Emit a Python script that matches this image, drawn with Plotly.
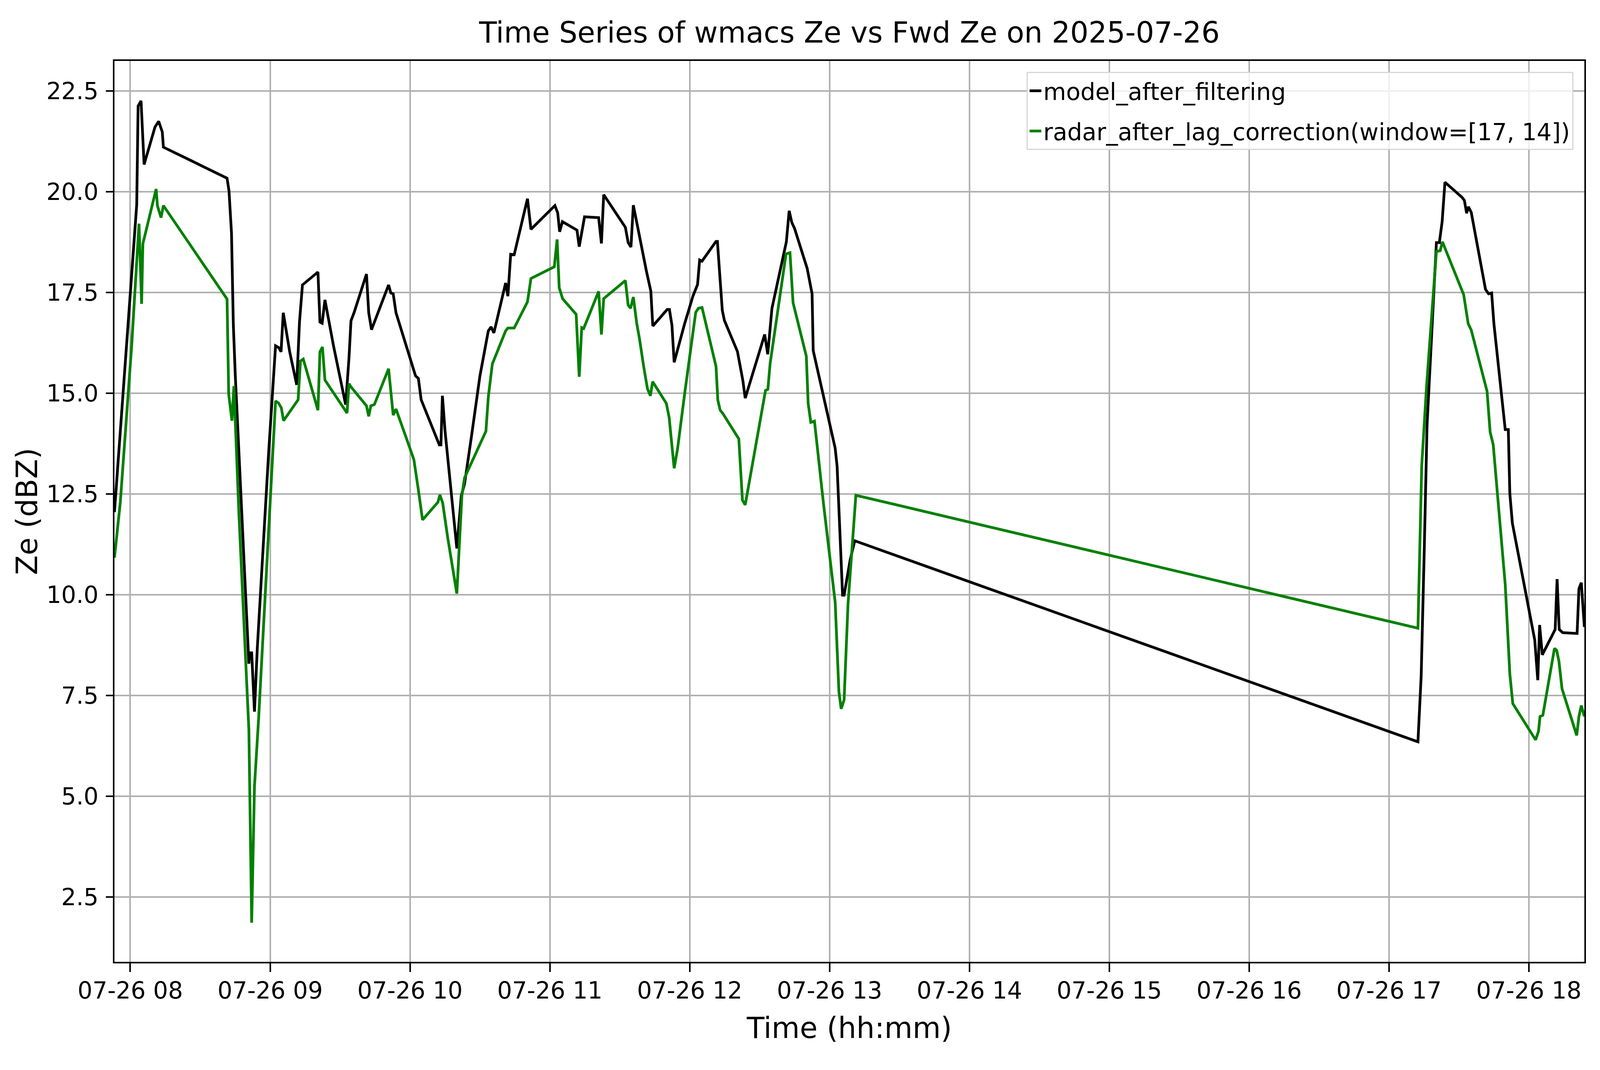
import plotly.graph_objects as go

day = "2025-07-26"

model_times = [
    "07:53:13", "08:02:46", "08:03:22", "08:04:37", "08:05:56", "08:10:37", "08:12:11", "08:13:44",
    "08:14:13", "08:41:31", "08:42:22", "08:43:26", "08:44:13", "08:45:04", "08:50:53", "08:51:14",
    "08:52:05", "08:53:17", "08:54:29", "08:57:32", "08:59:20", "09:02:20", "09:03:47", "09:04:41",
    "09:05:38", "09:08:24", "09:11:24", "09:12:36", "09:13:52", "09:20:31", "09:21:22", "09:22:19",
    "09:23:31", "09:27:11", "09:32:24", "09:33:50", "09:34:41", "09:36:00", "09:41:20", "09:42:18",
    "09:43:30", "09:50:49", "09:51:47", "09:52:48", "09:54:00", "10:02:24", "10:03:36", "10:04:48",
    "10:12:36", "10:13:16", "10:13:55", "10:15:00", "10:20:06", "10:22:01", "10:23:24", "10:26:24",
    "10:30:00", "10:33:36", "10:34:48", "10:36:00", "10:41:02", "10:42:00", "10:43:12", "10:44:42",
    "10:50:24", "10:51:54", "11:02:10", "11:03:22", "11:04:12", "11:05:24", "11:11:38", "11:12:36",
    "11:14:53", "11:20:56", "11:22:08", "11:23:06", "11:32:24", "11:33:36", "11:34:48", "11:35:49",
    "11:38:24", "11:41:24", "11:43:19", "11:44:10", "11:50:20", "11:51:18", "11:52:23", "11:53:20",
    "11:57:50", "12:01:26", "12:03:22", "12:04:16", "12:05:17", "12:11:17", "12:11:53", "12:13:05",
    "12:13:59", "12:14:53", "12:20:28", "12:22:48", "12:23:49", "12:32:10", "12:33:29", "12:35:17",
    "12:41:28", "12:42:40", "12:43:48", "12:45:00", "12:48:54", "12:50:24", "12:52:30", "12:52:59",
    "13:02:24", "13:03:14", "13:05:35", "13:06:14", "13:08:49", "13:10:48", "17:12:25", "17:13:48",
    "17:15:07", "17:16:19", "17:20:20", "17:21:36", "17:22:48", "17:24:00", "17:31:23", "17:32:20",
    "17:33:18", "17:34:05", "17:35:17", "17:41:24", "17:42:43", "17:44:02", "17:45:00", "17:49:52",
    "17:51:11", "17:51:50", "17:52:55", "18:02:31", "18:03:50", "18:04:37", "18:05:46", "18:11:17",
    "18:12:07", "18:13:01", "18:14:31", "18:20:42", "18:21:29", "18:22:30", "18:23:49",
]
model_ze = [
    12.05, 19.68, 22.13, 22.26, 20.68, 21.61, 21.75, 21.49,
    21.11, 20.34, 20.02, 18.97, 16.70, 15.43, 8.29, 8.56,
    8.56, 7.10, 8.66, 11.71, 13.50, 16.18, 16.13, 16.03,
    17.00, 16.03, 15.21, 16.77, 17.69, 18.01, 16.77, 16.74,
    17.32, 16.18, 14.72, 15.88, 16.80, 17.00, 17.96, 17.00,
    16.58, 17.69, 17.49, 17.47, 17.00, 15.43, 15.37, 14.84,
    13.72, 13.72, 14.94, 14.09, 11.15, 12.46, 12.75, 13.94,
    15.43, 16.55, 16.65, 16.50, 17.74, 17.41, 18.45, 18.44,
    19.83, 19.07, 19.66, 19.48, 19.01, 19.26, 19.05, 18.64,
    19.38, 19.36, 18.72, 19.93, 19.12, 18.74, 18.63, 19.67,
    18.90, 18.04, 17.54, 16.67, 17.08, 17.08, 16.69, 15.77,
    16.73, 17.42, 17.70, 18.31, 18.28, 18.77, 18.77, 17.90,
    17.06, 16.81, 16.04, 15.32, 14.88, 16.46, 15.97, 17.11,
    18.76, 19.53, 19.24, 19.09, 18.34, 18.10, 17.47, 16.06,
    13.64, 13.19, 9.99, 9.99, 10.86, 11.34, 6.35, 7.98,
    11.09, 14.20, 18.74, 18.74, 19.26, 20.24, 19.86, 19.79,
    19.47, 19.63, 19.49, 17.58, 17.47, 17.49, 16.73, 14.10,
    14.10, 12.52, 11.78, 8.88, 7.88, 9.25, 8.51, 9.14,
    10.39, 9.14, 9.06, 9.04, 10.15, 10.30, 9.20,
]

radar_times = [
    "07:53:13", "07:55:44", "08:00:36", "08:03:45", "08:04:52", "08:05:24", "08:11:06", "08:11:38",
    "08:13:12", "08:14:13", "08:41:31", "08:42:14", "08:43:37", "08:44:28", "08:46:37", "08:50:53",
    "08:52:05", "08:53:17", "08:55:05", "09:02:20", "09:03:36", "09:04:48", "09:05:46", "09:12:00",
    "09:13:01", "09:14:13", "09:20:31", "09:21:22", "09:22:26", "09:23:31", "09:33:00", "09:33:50",
    "09:34:41", "09:41:20", "09:42:18", "09:43:12", "09:44:42", "09:50:49", "09:52:48", "09:54:00",
    "09:59:17", "10:01:41", "10:03:36", "10:05:24", "10:12:00", "10:12:50", "10:14:02", "10:16:12",
    "10:20:06", "10:22:16", "10:23:24", "10:24:36", "10:32:35", "10:33:36", "10:35:20", "10:41:02",
    "10:42:00", "10:44:42", "10:50:24", "10:51:54", "11:01:55", "11:03:07", "11:04:01", "11:05:28",
    "11:11:17", "11:12:36", "11:13:41", "11:14:31", "11:20:56", "11:22:08", "11:23:06", "11:32:24",
    "11:33:36", "11:34:37", "11:35:49", "11:37:16", "11:38:28", "11:40:16", "11:41:53", "11:43:08",
    "11:44:06", "11:49:59", "11:51:11", "11:53:20", "11:54:47", "11:57:54", "12:02:35", "12:03:43",
    "12:05:17", "12:11:17", "12:12:04", "12:13:05", "12:14:13", "12:21:04", "12:21:47", "12:22:37",
    "12:23:49", "12:32:31", "12:33:32", "12:34:30", "12:41:20", "12:43:01", "12:44:20", "12:50:02",
    "12:50:49", "12:51:58", "12:53:31", "12:57:25", "13:02:24", "13:04:01", "13:04:59", "13:06:14",
    "13:07:55", "13:11:17", "17:12:25", "17:14:02", "17:16:05", "17:20:20", "17:21:58", "17:22:55",
    "17:32:02", "17:33:58", "17:35:17", "17:42:04", "17:43:23", "17:44:42", "17:49:52", "17:51:50",
    "17:53:06", "18:02:53", "18:04:08", "18:04:48", "18:06:00", "18:10:59", "18:11:56", "18:12:54",
    "18:14:13", "18:20:31", "18:21:29", "18:22:30", "18:23:49",
]
radar_ze = [
    10.92, 12.30, 16.18, 19.21, 17.22, 18.71, 20.07, 19.66,
    19.36, 19.66, 17.34, 14.98, 14.32, 15.18, 12.00, 6.65,
    1.86, 5.24, 6.95, 14.81, 14.76, 14.64, 14.32, 14.84,
    15.80, 15.85, 14.58, 16.03, 16.15, 15.33, 14.51, 15.24,
    15.16, 14.69, 14.43, 14.69, 14.72, 15.61, 14.46, 14.61,
    13.75, 13.35, 12.60, 11.86, 12.30, 12.48, 12.28, 11.41,
    10.03, 12.46, 12.90, 13.05, 14.06, 14.91, 15.73, 16.55,
    16.62, 16.62, 17.27, 17.85, 18.14, 18.82, 17.62, 17.35,
    16.96, 15.41, 16.63, 16.61, 17.53, 16.46, 17.35, 17.80,
    17.19, 17.11, 17.39, 16.74, 16.35, 15.66, 15.11, 14.94,
    15.29, 14.75, 14.40, 13.14, 13.62, 15.02, 17.01, 17.11,
    17.13, 15.67, 14.83, 14.58, 14.50, 13.87, 13.09, 12.35,
    12.23, 15.07, 15.10, 15.74, 18.46, 18.49, 17.25, 15.92,
    14.75, 14.28, 14.31, 12.25, 9.82, 7.59, 7.17, 7.39,
    9.77, 12.47, 9.17, 13.20, 15.15, 18.52, 18.54, 18.76,
    17.45, 16.73, 16.57, 15.05, 14.04, 13.73, 10.25, 8.04,
    7.30, 6.40, 6.61, 6.98, 7.01, 8.67, 8.62, 8.35,
    7.67, 6.51, 6.98, 7.25, 6.98,
]

window = [17, 14]
font = "DejaVu Sans"


def stamp(times):
    return [day + " " + t for t in times]


def main():
    fig = go.Figure()
    fig.add_trace(go.Scatter(x=stamp(model_times), y=model_ze, mode="lines",
                             name="model_after_filtering", legendgroup="model",
                             line={"color": "black", "width": 7}))
    fig.add_trace(go.Scatter(x=stamp(radar_times), y=radar_ze, mode="lines",
                             name=f"radar_after_lag_correction(window={window})", legendgroup="radar",
                             line={"color": "green", "width": 7}))

    axis = dict(showline=True, linecolor="black", linewidth=3.5, mirror=True,
                ticks="outside", tickwidth=3.5, tickcolor="black",
                showgrid=True, gridcolor="#b0b0b0", gridwidth=4, zeroline=False,
                tickfont={"family": font, "size": 60, "color": "black"})
    label_font = {"family": font, "size": 74, "color": "black"}

    # figure fills the window (autosize); margins are in css px
    fig.update_layout(
        margin={"l": 285, "r": 32, "t": 148, "b": 269, "pad": 0},
        paper_bgcolor="white", plot_bgcolor="white",
        font={"family": font, "color": "black"},
        title={"text": f"Time Series of wmacs Ze vs Fwd Ze on {day}", "font": label_font,
               "x": 0.5, "xref": "paper", "xanchor": "center",
               "y": 0.9725, "yref": "container", "yanchor": "middle"},
        legend={"x": 0.9925, "y": 0.9879, "xanchor": "right", "yanchor": "top",
                "traceorder": "grouped", "tracegroupgap": 22,
                "bgcolor": "rgba(255,255,255,0.8)", "bordercolor": "#d6d6d6", "borderwidth": 3,
                "font": {"family": font, "size": 60, "color": "black"}},
    )
    fig.update_xaxes(axis, range=[stamp(model_times)[0], stamp(model_times)[-1]],
                     tick0=day + " 08:00", dtick=3600000, tickformat="%m-%d %H",
                     ticklen=22, ticklabelstandoff=-4,
                     title={"text": "Time (hh:mm)", "standoff": 37, "font": label_font})
    fig.update_yaxes(axis, range=[0.89, 23.25], dtick=2.5, tickformat=".1f",
                     ticklen=18, ticklabelstandoff=7,
                     title={"text": "Ze (dBZ)", "standoff": 0, "font": label_font})

    fig.write_html("out.html")


if __name__ == "__main__":
    main()
